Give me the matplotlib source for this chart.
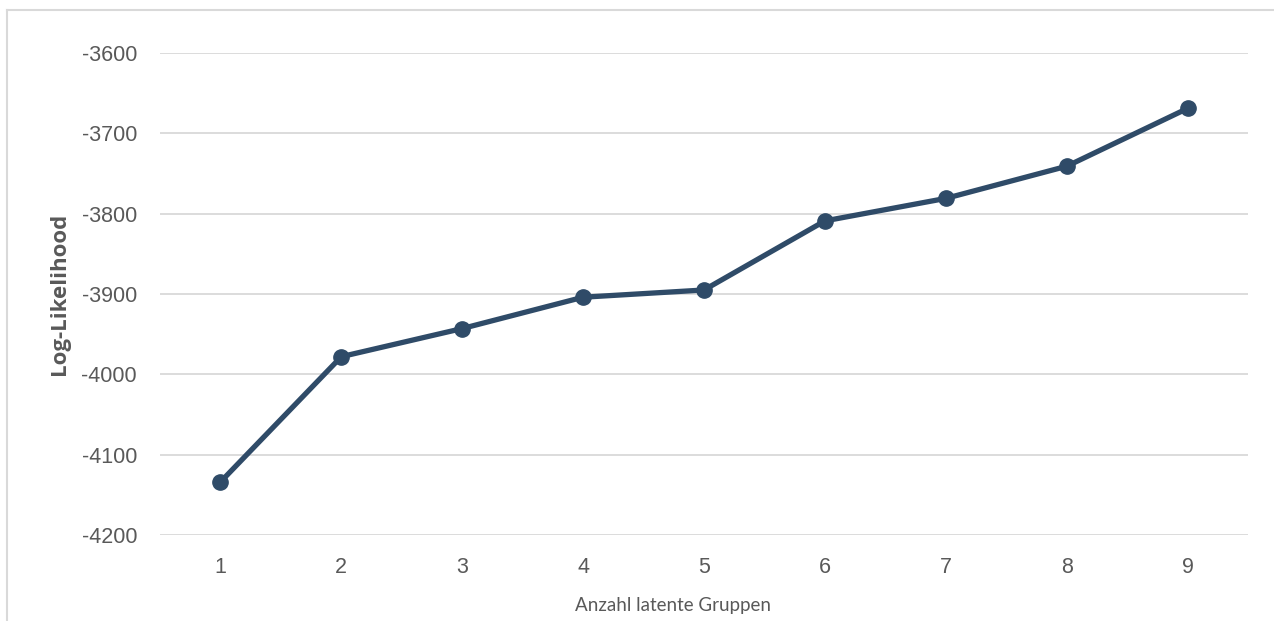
import numpy as np
import matplotlib
matplotlib.use("Agg")
import matplotlib.pyplot as plt
from matplotlib.lines import Line2D

# Log-Likelihood je Anzahl latenter Gruppen
gruppen = [1, 2, 3, 4, 5, 6, 7, 8, 9]
loglik = [-4134, -3978, -3943, -3904, -3895, -3809, -3781, -3741, -3669]
yticks = [-4200, -4100, -4000, -3900, -3800, -3700, -3600]

W, H = 1274, 621
fig = plt.figure(figsize=(W / 100, H / 100), dpi=100)
ax = fig.add_axes([160 / W, 1 - 535 / H, (1248 - 160) / W, (535 - 53) / H])

grid_c = "#D9D9D9"
text_c = "#595959"

ax.plot(gruppen, loglik, color="#2F4B68", lw=3.8, marker="o", ms=11,
        solid_capstyle="round", zorder=3)

ax.set_xlim(0.5, 9.5)
ax.set_ylim(-4200, -3600)
ax.set_yticks(yticks)
ax.set_yticklabels([str(v) for v in yticks])
ax.set_xticks(gruppen)
ax.yaxis.grid(True, color=grid_c, lw=1.3)
ax.set_axisbelow(True)
for s in ax.spines.values():
    s.set_visible(False)
ax.tick_params(length=0, labelsize=15.5, labelcolor=text_c, colors=text_c)
ax.tick_params(axis="y", pad=16.5)
ax.tick_params(axis="x", pad=16)
for lab in ax.get_xticklabels() + ax.get_yticklabels():
    lab.set_family("Liberation Sans")

fig.text(673 / W, 1 - 606 / H, "Anzahl latente Gruppen", fontsize=13.5,
         color=text_c, family="Lato", ha="center", va="center")
fig.text(60 / W, 1 - 294 / H, "Log-Likelihood", rotation=90, fontsize=16,
         fontweight="bold", color=text_c, family="Open Sans",
         ha="center", va="center")

# Rahmen des Diagrammbereichs
fig.add_artist(Line2D([7 / W, 7 / W], [0, 1 - 10 / H], color=grid_c, lw=1.5))
fig.add_artist(Line2D([7 / W, 1], [1 - 10 / H, 1 - 10 / H], color=grid_c, lw=1.5))

fig.savefig("out.png", dpi=100)
